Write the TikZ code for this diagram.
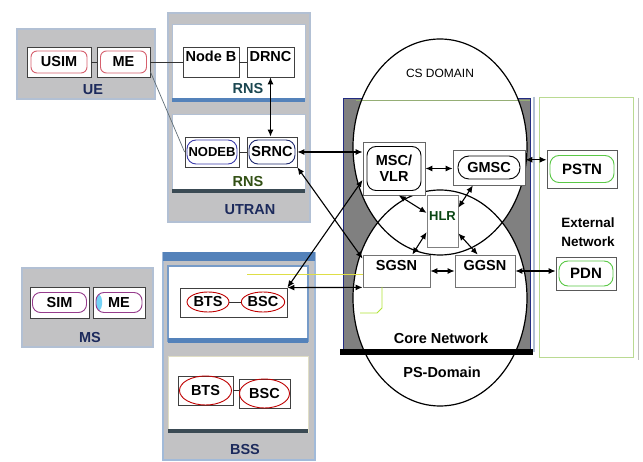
\documentclass[tikz,border=0pt]{standalone}
\usepackage{fontspec}
\setmainfont{Liberation Sans}
\usetikzlibrary{arrows.meta,calc,fit,shapes.geometric}
\definecolor{grpgray}{RGB}{194,194,196}
\definecolor{grpedge}{RGB}{178,192,212}
\definecolor{steel}{RGB}{84,130,186}
\definecolor{navytxt}{RGB}{28,42,92}
\definecolor{tealtxt}{RGB}{26,70,80}
\definecolor{greentxt}{RGB}{50,80,20}
\definecolor{slate}{RGB}{58,74,84}
\definecolor{coregray}{RGB}{128,128,128}
\definecolor{corenavy}{RGB}{34,44,130}
\definecolor{extgreen}{RGB}{186,218,146}
\definecolor{pinkred}{RGB}{214,96,110}
\definecolor{purp}{RGB}{150,60,140}
\definecolor{bluein}{RGB}{60,60,170}
\definecolor{navyin}{RGB}{30,40,110}
\definecolor{greenin}{RGB}{90,200,70}
\definecolor{hlrgreen}{RGB}{10,70,20}
\definecolor{yel}{RGB}{222,222,70}
\begin{document}
\begin{tikzpicture}[x=1pt,y=-1pt,
  grp/.style={draw=grpedge, fill=grpgray, line width=1.6pt, inner sep=0pt},
  wbox/.style={draw=grpedge, fill=white, line width=1pt, inner sep=0pt},
  nbox/.style={draw=black!75, fill=white, line width=0.8pt, inner sep=0pt,
    font=\fontsize{14.5}{16}\selectfont\bfseries},
  inr/.style={rounded corners=6pt, line width=0.9pt, inner sep=0pt,
    font=\fontsize{14.5}{16}\selectfont\bfseries},
  ell/.style={ellipse, draw=red!75!black, line width=0.9pt, inner sep=0pt,
    font=\fontsize{14.5}{16}\selectfont\bfseries},
  glabel/.style={font=\fontsize{14.5}{16}\selectfont\bfseries, text=navytxt},
  arr/.style={{Latex[length=7pt,width=6pt]}-{Latex[length=7pt,width=6pt]}, line width=1.1pt},
  plain/.style={line width=0.8pt, draw=black!80}]
\useasboundingbox (0,0) rectangle (643,462);
\fill[white] (0,0) rectangle (643,462);

% ---------------- UE
\node[grp, fit={(17,29) (155,99)}] (ue) {};
\node[nbox, fit={(27,47) (91,77)}] (usim) {};
\node[inr, draw=pinkred, minimum width=56pt, minimum height=22pt] (usimin) at (usim) {USIM};
\node[nbox, fit={(97,47) (150,77)}] (me) {};
\node[inr, draw=pinkred, minimum width=46pt, minimum height=22pt] (mein) at (me) {ME};
\node[glabel] (uelbl) at (93,90) {UE};

% ---------------- UTRAN
\node[grp, fit={(168,13) (310,222)}] (utran) {};
\node[wbox, fit={(172,25) (305,101)}] (rns1) {};
\fill[steel] (172,98) rectangle (305,102);
\node[nbox, fit={(183,47) (239,77)}] (nodeb1) {Node B};
\node[nbox, fit={(247,47) (294,77)}] (drnc) {DRNC};
\node[glabel, text=tealtxt] (rns1lbl) at (248,89) {RNS};
\node[wbox, fit={(172,115) (305,192)}] (rns2) {};
\fill[slate] (172,189) rectangle (305,193);
\node[nbox, fit={(185,137) (239,167)}] (nodeb2) {};
\node[inr, draw=bluein, rounded corners=9pt, minimum width=50pt, minimum height=24pt,
  font=\fontsize{13}{15}\selectfont\bfseries] (nodeb2in) at (nodeb2) {NODEB};
\node[nbox, fit={(247,137) (297,167)}] (srnc) {};
\node[inr, draw=navyin, rounded corners=9pt, minimum width=46pt, minimum height=24pt] (srncin) at (srnc) {SRNC};
\node[glabel, text=greentxt] (rns2lbl) at (248,182) {RNS};
\node[glabel] (utranlbl) at (250,210) {UTRAN};

% ---------------- MS
\node[grp, fit={(22,268) (153,347)}] (ms) {};
\node[nbox, fit={(30,287) (89,318)}] (sim) {};
\node[inr, draw=purp, rounded corners=8pt, minimum width=54pt, minimum height=20pt] (simin) at (sim) {SIM};
\node[nbox, fit={(93,287) (145,318)}] (me2) {};
\node[inr, draw=purp, rounded corners=8pt, minimum width=46pt, minimum height=20pt,
  path picture={\fill[cyan!55] (path picture bounding box.south west) rectangle ([xshift=6pt]path picture bounding box.north west);}] (me2in) at (me2) {ME};
\node[glabel] (mslbl) at (90,338) {MS};

% ---------------- BSS
\node[grp, draw=steel!55, fit={(163,253) (315,460)}] (bss) {};
\fill[steel] (163,252) rectangle (315,261);
\node[wbox, draw=steel!80, line width=2pt, fit={(168,266) (308,341)}] (bssup) {};
\fill[steel] (168,338) rectangle (308,343);
\node[nbox, fit={(180,288) (287,317)}] (btsbsc) {};
\node[ell, minimum width=42pt, minimum height=20pt] (bts1) at (208,302) {BTS};
\node[ell, minimum width=42pt, minimum height=20pt] (bsc1) at (263,302) {BSC};
\draw[plain] (bts1.east) -- (bsc1.west);
\node[wbox, draw=yellow!30!gray!40, fit={(168,357) (308,432)}] (bsslow) {};
\fill[slate] (168,429) rectangle (308,433);
\node[nbox, fit={(178,376) (233,405)}] (bts2) {};
\node[ell, minimum width=52pt, minimum height=29pt] (bts2in) at (bts2) {BTS};
\node[nbox, fit={(239,379) (290,408)}] (bsc2) {};
\node[ell, minimum width=50pt, minimum height=29pt] (bsc2in) at (bsc2) {BSC};
\draw[plain] (bts2.east) -- (bts2.east -| bsc2.west);
\node[glabel] (bsslbl) at (245,450) {BSS};

% ---------------- Core network
\node[draw=corenavy, fill=coregray, line width=1pt, inner sep=0pt, fit={(343,99) (530,350)}] (core) {};
\draw[grpedge, line width=1.5pt] (534,97) -- (534,352);
\node[ellipse, fill=white, minimum width=174pt, minimum height=216pt, inner sep=0pt] (csfill) at (440,147) {};
\node[ellipse, fill=white, minimum width=174pt, minimum height=216pt, inner sep=0pt] (psfill) at (440,298) {};
\draw[extgreen!80!black, line width=0.8pt] (356,100) -- (530,100);
\node[ellipse, draw=black, line width=1.2pt, minimum width=174pt, minimum height=216pt, inner sep=0pt] (cs) at (440,147) {};
\node[ellipse, draw=black, line width=1.2pt, minimum width=174pt, minimum height=216pt, inner sep=0pt] (ps) at (440,298) {};
\fill[black] (340,349) rectangle (533,355);
\node[font=\fontsize{12}{14}\selectfont] (cslbl) at (440,73) {CS DOMAIN};
\node[font=\fontsize{14.5}{16}\selectfont\bfseries] (corelbl) at (441,338) {Core Network};
\node[font=\fontsize{14.5}{16}\selectfont\bfseries] (pslbl) at (442,372) {PS-Domain};

\node[nbox, draw=black!60, fit={(363,142) (425,195)}] (msc) {};
\node[inr, draw=black, rounded corners=9pt, minimum width=54pt, minimum height=44pt, align=center] (mscin) at (msc) {MSC/\\VLR};
\node[nbox, draw=black!60, fit={(453,150) (525,185)}] (gmsc) {};
\node[inr, draw=black, rounded corners=11pt, minimum width=62pt, minimum height=23pt] (gmscin) at (gmsc) {GMSC};
\node[nbox, draw=black!50, text=hlrgreen, fit={(427,195) (458,247)}, font=\fontsize{13}{15}\selectfont\bfseries] (hlr) {HLR};
\node[nbox, draw=black!55, fit={(363,255) (430,287)}] (sgsn) {SGSN};
\node[nbox, draw=black!55, fit={(455,255) (515,287)}] (ggsn) {GGSN};

% ---------------- External network
\node[draw=extgreen, fill=white, line width=1pt, inner sep=0pt, fit={(539,98) (633,358)}] (ext) {};
\draw[black!25, line width=0.8pt] (638,98) -- (638,360);
\node[nbox, draw=black!65, fit={(547,150) (617,188)}] (pstn) {};
\node[inr, draw=greenin, rounded corners=9pt, minimum width=64pt, minimum height=27pt,
  font=\fontsize{15}{17}\selectfont\bfseries] (pstnin) at (pstn) {PSTN};
\node[font=\fontsize{13.5}{15}\selectfont\bfseries] (extlbl) at (588,223) {External};
\node[font=\fontsize{13.5}{15}\selectfont\bfseries] (netlbl) at (588,242) {Network};
\node[nbox, draw=black!65, fit={(556,257) (616,290)}] (pdn) {};
\node[inr, draw=greenin, rounded corners=9pt, minimum width=54pt, minimum height=25pt,
  font=\fontsize{15}{17}\selectfont\bfseries] (pdnin) at (pdn) {PDN};

% ---------------- faint coloured lines
\coordinate (yelA) at (247,274);
\draw[yel, line width=0.8pt] (yelA) -- (yelA -| sgsn.west);
\coordinate (lgA) at (382,287);
\coordinate (lgB) at (360,313);
\draw[yel!80!green, line width=0.8pt] (lgA) -- (382,308) -- (377,313) -- (lgB);

% ---------------- plain links
\draw[plain] (usim.east) -- (me.west);
\draw[plain] (me.east) -- (nodeb1.west);
\draw[line width=0.7pt, draw=slate!80] (me.-20) -- (nodeb2.west);
\draw[plain] (nodeb1.east) -- (drnc.west);
\draw[plain] (nodeb2.east) -- (srnc.west);

% ---------------- arrows
\draw[arr] (drnc.south) -- (drnc.south |- srnc.north);
\draw[arr] (srnc.east) -- (srnc.east -| msc.west);
\draw[arr] (srnc.south east) -- (sgsn.160);
\draw[arr] (btsbsc.north east) -- (msc.200);
\draw[arr] (btsbsc.north east) -- (sgsn.south west);
\draw[arr] (msc.east) -- (msc.east -| gmsc.west);
\draw[arr] (msc.-80) -- (hlr.153);
\draw[arr] (gmsc.228) -- (hlr.40);
\draw[arr] (hlr.215) -- (sgsn.46);
\draw[arr] (hlr.-38) -- (ggsn.114);
\draw[arr] (sgsn.east) -- (ggsn.west);
\draw[arr] (gmsc.12) -- (gmsc.12 -| pstn.west);
\draw[arr] (ggsn.east) -- (ggsn.east -| pdn.west);
\end{tikzpicture}
\end{document}
